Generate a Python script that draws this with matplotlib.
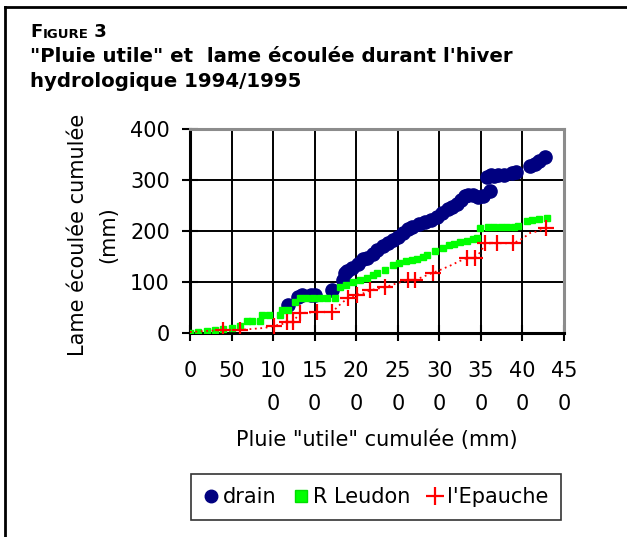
import matplotlib.pyplot as plt
from matplotlib.lines import Line2D

plt.rcParams['font.family'] = ['DejaVu Sans']

# Cumulated "useful" rain (mm) vs cumulated runoff (mm), winter 1994/1995
drain_x = [118, 130, 135, 145, 150, 171, 184, 186, 189, 195, 202, 208, 213, 220,
           225, 232, 238, 244, 250, 256, 262, 267, 275, 283, 290, 297, 303, 310,
           315, 321, 326, 331, 335, 340, 347, 353, 357, 361, 362, 366, 371, 378,
           387, 392, 409, 415, 420, 427]
drain_y = [55, 70, 75, 75, 75, 84, 104, 117, 122, 128, 135, 145, 147, 155,
           162, 170, 176, 182, 188, 197, 203, 208, 214, 218, 222, 228, 235, 243,
           247, 253, 260, 268, 270, 270, 267, 268, 305, 278, 310, 308, 310, 310,
           313, 316, 328, 332, 338, 345]

leudon_x = [0, 10, 20, 30, 40, 50, 60, 69, 75, 84, 87, 95, 108, 111, 118, 126,
            132, 140, 148, 156, 165, 175, 180, 188, 196, 205, 213, 220, 225, 235,
            244, 252, 260, 267, 273, 280, 285, 295, 304, 312, 318, 325, 333, 340,
            345, 349, 358, 366, 374, 382, 390, 395, 405, 412, 420, 430]
leudon_y = [0, 2, 4, 6, 8, 10, 14, 24, 24, 24, 35, 35, 35, 45, 45, 61,
            69, 69, 69, 69, 69, 69, 90, 95, 100, 104, 108, 113, 118, 124,
            133, 137, 141, 143, 146, 150, 153, 160, 167, 172, 175, 178, 181, 184,
            186, 206, 207, 207, 208, 208, 208, 209, 220, 222, 224, 226]

epauche_x = [0, 10, 20, 30, 40, 50, 60, 75, 90, 101, 110, 117, 124, 132, 142,
             153, 162, 171, 180, 190, 201, 209, 217, 226, 235, 248, 262, 271, 280,
             292, 303, 313, 323, 333, 343, 350, 355, 362, 369, 379, 389, 400, 409,
             420, 428]
epauche_y = [2, 3, 4, 5, 6, 6, 6, 8, 10, 14, 17, 22, 22, 39, 40,
             41, 41, 41, 55, 69, 75, 78, 84, 87, 90, 97, 104, 104, 110,
             118, 125, 132, 140, 147, 147, 160, 176, 176, 176, 176, 176, 185, 196,
             200, 206]
# points drawn with the big cross, the others show as dots
epauche_cross = [4, 6, 9, 11, 12, 13, 15, 17, 19, 20, 22, 24, 26, 27, 29, 33, 34,
                 36, 38, 40, 44]

xticks = list(range(0, 451, 50))
xticklabels = ['0', '50', '10\n0', '15\n0', '20\n0', '25\n0', '30\n0', '35\n0', '40\n0', '45\n0']
yticks = [0, 100, 200, 300, 400]

fig = plt.figure(figsize=(6.27, 5.37), dpi=100)
ax = fig.add_axes([190 / 627, 1 - 333 / 537, 374 / 627, 204 / 537])

ax.plot(drain_x, drain_y, 'o', color='#000080', markersize=9.5, label='drain',
        zorder=3)
ax.plot(leudon_x, leudon_y, 's', color='#00ff00', markersize=5, label='R Leudon',
        zorder=3)
ax.plot(epauche_x, epauche_y, linestyle=(0, (1, 2)), color='red', linewidth=1.3,
        zorder=3)
ax.plot(epauche_x, epauche_y, '+', color='red', markersize=11, markeredgewidth=1.6,
        markevery=epauche_cross, zorder=4)

ax.set_xlim(0, 450)
ax.set_ylim(0, 400)
ax.set_xticks(xticks)
ax.set_xticklabels(xticklabels, fontsize=15, linespacing=1.8, va='top')
ax.set_yticks(yticks)
ax.set_yticklabels([str(v) for v in yticks], fontsize=15)
ax.tick_params(axis='both', direction='inout', length=11, width=1.5, color='black')
ax.tick_params(axis='x', pad=15)
ax.tick_params(axis='y', pad=9)
ax.grid(True, color='black', linewidth=1.4)
ax.set_axisbelow(True)

for s in ['left', 'bottom']:
    ax.spines[s].set_color('black')
    ax.spines[s].set_linewidth(2.2)
for s in ['top', 'right']:
    ax.spines[s].set_color('#8c8c8c')
    ax.spines[s].set_linewidth(2.2)

fig.text(377 / 627, 1 - 440 / 537, 'Pluie "utile" cumulée (mm)', fontsize=15,
         ha='center', va='center')
fig.text(93 / 627, 1 - 235 / 537, 'Lame écoulée cumulée\n(mm)', fontsize=15,
         ha='center', va='center', rotation=90, linespacing=1.65)

# title, "FIGURE" in small caps
t1 = fig.text(30 / 627, 1 - 37 / 537, 'F', fontsize=13, fontweight='bold', va='baseline')
t2 = plt.annotate('IGURE', xy=(1, 0), xycoords=t1, fontsize=9.5, fontweight='bold',
                  va='bottom', annotation_clip=False)
t3 = plt.annotate(' 3', xy=(1, 0), xycoords=t2, fontsize=13, fontweight='bold',
                  va='bottom', annotation_clip=False)
fig.text(30 / 627, 1 - 62 / 537, '"Pluie utile" et  lame écoulée durant l\'hiver',
         fontsize=14.2, fontweight='bold', va='baseline')
fig.text(30 / 627, 1 - 87 / 537, 'hydrologique 1994/1995',
         fontsize=14.2, fontweight='bold', va='baseline')

# legend
handles = [
    Line2D([], [], marker='o', color='#000080', linestyle='none', markersize=9),
    Line2D([], [], marker='s', color='#00ff00', markeredgecolor='#00dd00',
           linestyle='none', markersize=8),
    Line2D([], [], marker='+', color='red', linestyle='none', markersize=13,
           markeredgewidth=1.6),
]
leg = fig.legend(handles, ['drain', 'R Leudon', "l'Epauche"], ncol=3,
                 loc='center', bbox_to_anchor=(376 / 627, 1 - 497 / 537),
                 fontsize=15, frameon=True, fancybox=False, edgecolor='black',
                 handlelength=0.7, handletextpad=0.25, columnspacing=0.8,
                 borderpad=0.62)
leg.get_frame().set_linewidth(1.2)

# outer frame (top and left edges visible)
fig.add_artist(Line2D([5 / 627, 5 / 627], [0, 1 - 7 / 537], color='black',
                      linewidth=2, transform=fig.transFigure))
fig.add_artist(Line2D([5 / 627, 1], [1 - 7 / 537, 1 - 7 / 537], color='black',
                      linewidth=2, transform=fig.transFigure))

fig.savefig('out.png', dpi=100)
